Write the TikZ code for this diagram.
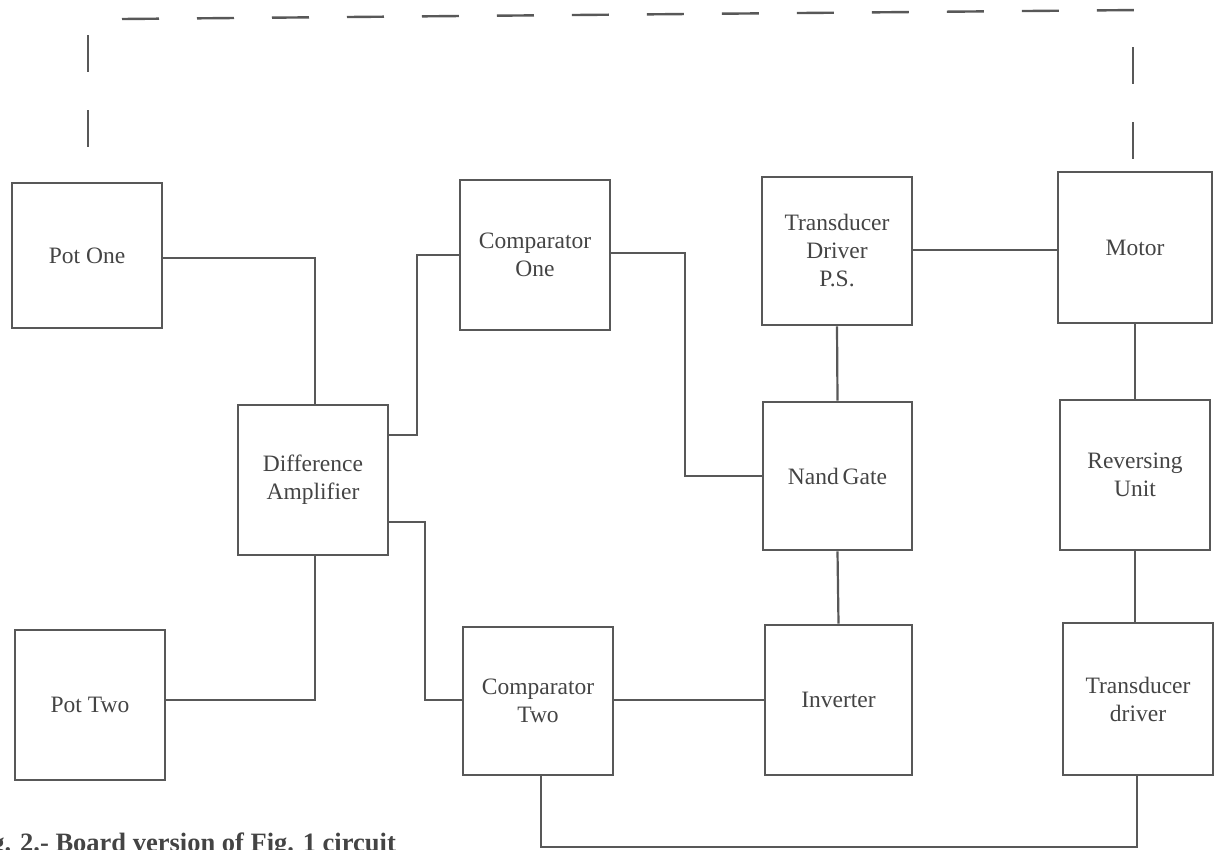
\documentclass[tikz,border=0pt]{standalone}
\usepackage{fontspec}
\setmainfont{Liberation Serif}
\definecolor{ink}{HTML}{585858}
\definecolor{txt}{HTML}{444444}
\begin{document}
\begin{tikzpicture}[x=1pt,y=-1pt,
  blk/.style={draw=ink,line width=2.6pt,minimum width=#1,inner sep=0pt,text=txt,align=center,font=\fontsize{23.5}{28}\selectfont},
  wire/.style={draw=ink,line width=2.2pt},
  dsh/.style={draw=ink,line width=2.4pt,dash pattern=on 37pt off 38pt}]
\useasboundingbox (0,0) rectangle (1215,849);
% boxes
\node[blk=150pt,minimum height=145pt] (p1) at (87,255.5) {Pot One};
\node[blk=150pt,minimum height=150pt] (p2) at (90,705) {Pot Two};
\node[blk=150pt,minimum height=150pt] (da) at (313,480) {Difference\\Amplifier};
\node[blk=150pt,minimum height=150pt] (c1) at (535,255) {Comparator\\One};
\node[blk=150pt,minimum height=148pt] (c2) at (538,701) {Comparator\\Two};
\node[blk=150pt,minimum height=148pt] (tp) at (837,251) {Transducer\\Driver\\P.S.};
\node[blk=149pt,minimum height=148pt] (ng) at (837.5,476) {Nand\,Gate};
\node[blk=147pt,minimum height=150pt] (iv) at (838.5,700) {Inverter};
\node[blk=154pt,minimum height=151pt] (mo) at (1135,247.5) {Motor};
\node[blk=150pt,minimum height=150pt] (ru) at (1135,475) {Reversing\\Unit};
\node[blk=150pt,minimum height=152pt] (td) at (1138,699) {Transducer\\driver};
% connectors
\draw[wire] (p1.east |- 0,258) -| (315,0 |- da.north);
\draw[wire] (p2.east |- 0,700) -| (315,0 |- da.south);
\draw[wire] (da.east |- 0,435) -- (417,435) |- (c1.west |- 0,255);
\draw[wire] (da.east |- 0,522) -- (425,522) |- (c2.west |- 0,700);
\draw[wire] (c1.east |- 0,253) -- (685,253) |- (ng.west |- 0,476);
\draw[wire] (tp.east |- 0,250) -- (mo.west |- 0,250);
\draw[wire] (tp.south) -- (ng.north);
\draw[wire] (ng.south) -- (iv.north);
\draw[wire] (c2.east |- 0,700) -- (iv.west |- 0,700);
\draw[wire] (mo.south) -- (ru.north);
\draw[wire] (1135,0 |- ru.south) -- (1135,0 |- td.north);
\coordinate (bl) at (541,847);
\coordinate (br) at (1137,847);
\draw[wire] (541,0 |- c2.south) -- (bl) -- (br) -- (1137,0 |- td.south);
% dashed feedback loop
\draw[dsh] (88,35) -- (88,150);
\draw[dsh] (122,19) -- (1140,10);
\draw[dsh] (1133,47) -- (1133,162);
% caption
\node[anchor=base east,inner sep=0pt,text=txt,font=\fontsize{26.5}{30}\selectfont\bfseries] (cap) at (396,851) {Fig. 2.- Board version of Fig. 1 circuit};
\end{tikzpicture}
\end{document}
